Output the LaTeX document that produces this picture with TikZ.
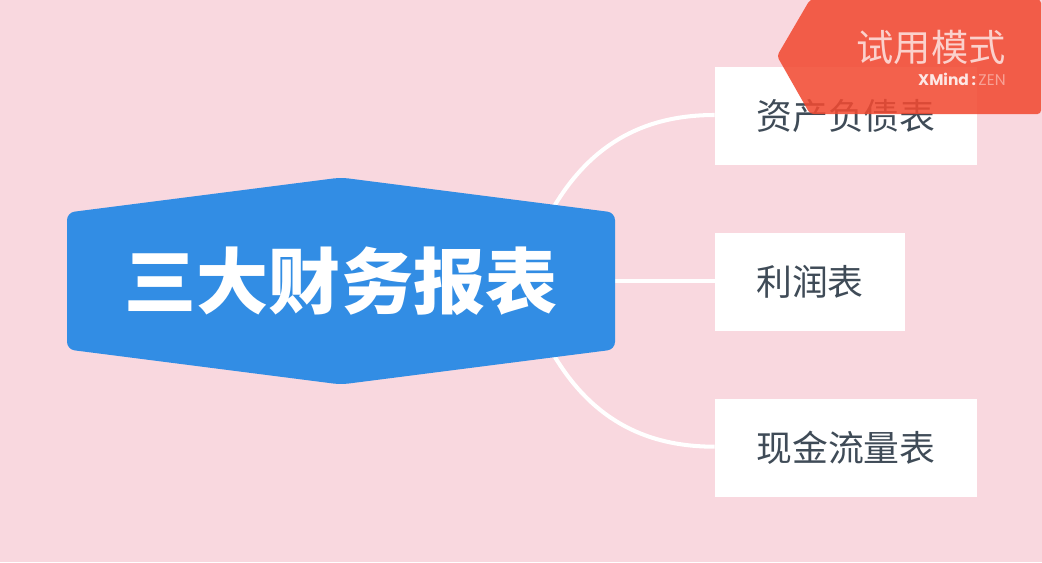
\documentclass[tikz,border=0pt]{standalone}
\usepackage{fontspec}
\usepackage{tikz}
\usetikzlibrary{backgrounds}
\newfontfamily\cjk{Noto Sans CJK SC}
\newfontfamily\latinfont{Poppins}
\definecolor{pagepink}{HTML}{F9D8DF}
\definecolor{rootblue}{HTML}{328DE4}
\definecolor{inkgrey}{HTML}{3F4B57}
\definecolor{trialred}{HTML}{F24A32}

\begin{document}
\begin{tikzpicture}[scale=0.2]
              \tikzstyle{every node}+=[inner sep=0pt]
              \tikzstyle{topic}=[fill=white,text=inkgrey,minimum height=1.96cm,font=\cjk\fontsize{20.4}{20.4}\selectfont]
              \tikzstyle{link}=[white,line width=2.3pt]
              \useasboundingbox (0,0) rectangle (104.2,-56.2);
              \fill [rootblue,rounded corners=0.15cm] (6.7,-21.26) -- (34.1,-17.75) -- (61.5,-21.26) -- (61.5,-34.94) -- (34.1,-38.45) -- (6.7,-34.94) -- cycle;
              \node (root) [minimum width=10.96cm,minimum height=2.8cm,text=white,font=\cjk\bfseries\fontsize{41}{41}\selectfont] at (34.1,-28.1) {三大财务报表};
              \node (balance) [topic,minimum width=5.24cm] at (84.6,-11.6) {资产负债表};
              \node (profit) [topic,minimum width=3.8cm] at (81,-28.2) {利润表};
              \node (cashflow) [topic,minimum width=5.24cm] at (84.6,-44.8) {现金流量表};
              \begin{scope}[on background layer]
                \fill [pagepink] (0,0) rectangle (104.2,-56.2);
                \draw [link] ([xshift=-0.6cm]root.18) to [out=60,in=180] ([yshift=0.1cm]balance.west);
                \draw [link] (root.east) -- (root.east -| profit.west);
                \draw [link] ([xshift=-0.6cm]root.-18) to [out=-60,in=180] ([yshift=0.13cm]cashflow.west);
              \end{scope}
              % trial badge
              \fill [trialred,opacity=0.87,rounded corners=0.07cm] (81,0.05) -- (104.1,0.05) -- (104.1,-11.4) -- (81,-11.4) -- (77.7,-5.6) -- cycle;
              \node (trial) [anchor=east,text=white,text opacity=0.72,font=\cjk\fontsize{21.2}{21.2}\selectfont] at (100.6,-4.7) {试用模式};
              \node (brand) [anchor=east,text=white,text opacity=0.85,font=\latinfont\fontsize{8.8}{8.8}\selectfont] at (100.6,-7.9) {\textbf{XMind}\,\textbf{:}\,{\color{white!55!trialred}ZEN}};
            \end{tikzpicture}
\end{document}
